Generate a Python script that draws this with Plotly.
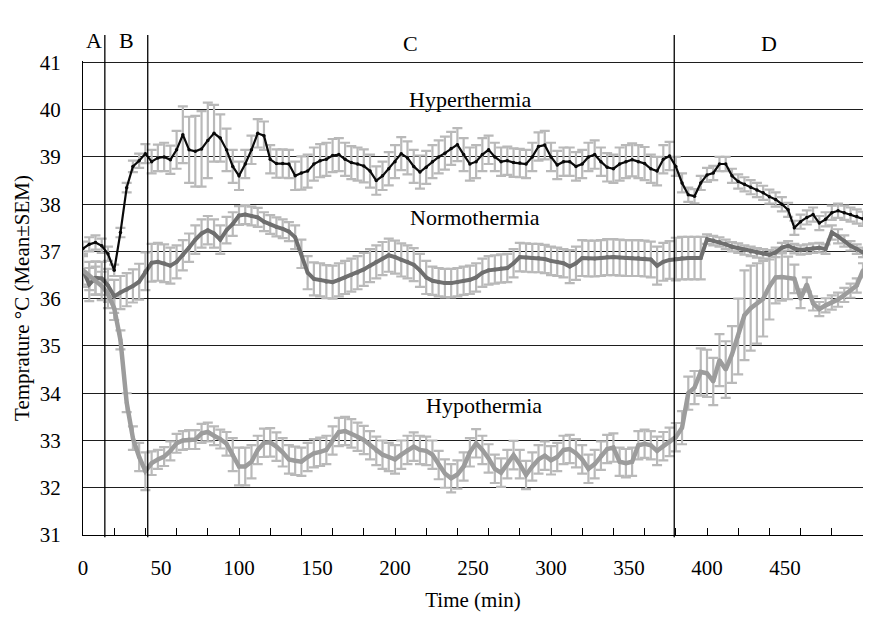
import plotly.graph_objects as go

# ---------------- data ----------------
time_min = list(range(0, 501, 4))

hyper_mean = [37.06, 37.15, 37.19, 37.12, 36.95, 36.6, 37.4, 38.35, 38.8, 38.92,
              39.07, 38.9, 38.98, 39.0, 38.94, 39.15, 39.47, 39.15, 39.12, 39.17,
              39.35, 39.5, 39.4, 39.15, 38.8, 38.6, 38.85, 39.15, 39.5, 39.45,
              38.95, 38.86, 38.86, 38.85, 38.6, 38.66, 38.7, 38.85, 38.92, 38.95,
              39.03, 39.05, 38.95, 38.88, 38.85, 38.81, 38.7, 38.5, 38.6, 38.75,
              38.9, 39.07, 38.98, 38.8, 38.68, 38.78, 38.9, 39.0, 39.08, 39.18,
              39.26, 39.05, 38.85, 38.9, 39.05, 39.15, 39.0, 38.9, 38.92, 38.88,
              38.87, 38.85, 39.0, 39.22, 39.25, 39.0, 38.83, 38.9, 38.9, 38.8,
              38.85, 39.0, 39.05, 38.9, 38.78, 38.75, 38.85, 38.9, 38.94, 38.9,
              38.86, 38.75, 38.7, 38.95, 39.02, 38.8, 38.45, 38.2, 38.17, 38.45,
              38.62, 38.66, 38.85, 38.85, 38.6, 38.48, 38.42, 38.36, 38.3, 38.24,
              38.16, 38.1, 38.0, 37.88, 37.5, 37.63, 37.72, 37.78, 37.6, 37.68,
              37.82, 37.86, 37.82, 37.78, 37.74, 37.69]
hyper_sem = [0.15, 0.15, 0.15, 0.15, 0.15, 0.12, 0.1, 0.1, 0.12, 0.15,
             0.2, 0.25, 0.28, 0.3, 0.3, 0.4, 0.6, 0.7, 0.75, 0.8,
             0.8, 0.6, 0.5, 0.45, 0.35, 0.3, 0.3, 0.3, 0.3, 0.3,
             0.3, 0.3, 0.3, 0.3, 0.3, 0.35, 0.35, 0.35, 0.35, 0.35,
             0.35, 0.35, 0.35, 0.35, 0.35, 0.35, 0.35, 0.3, 0.3, 0.35,
             0.35, 0.35, 0.35, 0.35, 0.35, 0.35, 0.35, 0.35, 0.35, 0.35,
             0.35, 0.35, 0.35, 0.35, 0.35, 0.3, 0.3, 0.3, 0.3, 0.3,
             0.3, 0.3, 0.3, 0.3, 0.3, 0.3, 0.3, 0.3, 0.3, 0.3,
             0.3, 0.3, 0.3, 0.3, 0.3, 0.3, 0.35, 0.35, 0.35, 0.35,
             0.35, 0.3, 0.3, 0.3, 0.3, 0.2, 0.2, 0.15, 0.15, 0.15,
             0.15, 0.15, 0.15, 0.15, 0.15, 0.15, 0.15, 0.15, 0.15, 0.15,
             0.15, 0.15, 0.15, 0.15, 0.15, 0.15, 0.15, 0.15, 0.15, 0.15,
             0.15, 0.15, 0.15, 0.15, 0.15, 0.15]

normo_mean = [36.6, 36.3, 36.44, 36.43, 36.28, 36.05, 36.13, 36.19, 36.27, 36.36,
              36.58, 36.76, 36.78, 36.75, 36.7, 36.78, 36.92, 37.08, 37.25, 37.38,
              37.45, 37.38, 37.25, 37.45, 37.58, 37.76, 37.78, 37.75, 37.72, 37.63,
              37.57, 37.52, 37.48, 37.42, 37.3, 36.95, 36.55, 36.42, 36.4, 36.36,
              36.35, 36.4, 36.45, 36.5, 36.55, 36.62, 36.7, 36.78, 36.85, 36.92,
              36.88, 36.82, 36.78, 36.72, 36.6, 36.45, 36.38, 36.35, 36.33, 36.33,
              36.35, 36.38, 36.4, 36.45, 36.55, 36.6, 36.62, 36.64, 36.65, 36.75,
              36.88, 36.87, 36.86, 36.86, 36.84, 36.8, 36.78, 36.75, 36.68, 36.75,
              36.86, 36.85, 36.85, 36.86, 36.88, 36.88, 36.87, 36.86, 36.86, 36.86,
              36.85, 36.83, 36.7, 36.78, 36.82, 36.84, 36.86, 36.86, 36.86, 36.86,
              37.26, 37.23, 37.2, 37.15, 37.1, 37.07, 37.03, 37.0, 36.97, 36.95,
              36.93, 36.98, 37.08, 37.12, 37.06, 37.03, 37.05, 37.07, 37.08, 37.05,
              37.4, 37.32, 37.22, 37.12, 37.05, 36.98]
normo_sem = [0.35, 0.35, 0.35, 0.35, 0.35, 0.35, 0.35, 0.35, 0.35, 0.38,
             0.4, 0.4, 0.4, 0.4, 0.38, 0.35, 0.32, 0.3, 0.3, 0.3,
             0.3, 0.3, 0.3, 0.28, 0.25, 0.2, 0.2, 0.2, 0.2, 0.2,
             0.2, 0.2, 0.2, 0.2, 0.25, 0.3, 0.35, 0.35, 0.35, 0.35,
             0.35, 0.35, 0.35, 0.35, 0.35, 0.35, 0.35, 0.35, 0.35, 0.35,
             0.35, 0.35, 0.35, 0.35, 0.35, 0.35, 0.3, 0.3, 0.3, 0.3,
             0.3, 0.3, 0.3, 0.3, 0.3, 0.3, 0.3, 0.3, 0.3, 0.3,
             0.3, 0.3, 0.3, 0.3, 0.3, 0.3, 0.3, 0.3, 0.35, 0.35,
             0.38, 0.38, 0.38, 0.38, 0.38, 0.38, 0.38, 0.38, 0.38, 0.38,
             0.38, 0.38, 0.4, 0.4, 0.4, 0.45, 0.45, 0.45, 0.45, 0.45,
             0.1, 0.1, 0.1, 0.1, 0.1, 0.1, 0.1, 0.1, 0.1, 0.1,
             0.1, 0.1, 0.1, 0.1, 0.1, 0.1, 0.1, 0.1, 0.1, 0.1,
             0.15, 0.15, 0.12, 0.1, 0.1, 0.1]

hypo_mean = [36.6, 36.48, 36.38, 36.27, 36.1, 35.8, 35.13, 33.8, 33.05, 32.65,
             32.35, 32.52, 32.6, 32.66, 32.78, 32.94, 33.0, 33.02, 33.02, 33.15,
             33.18, 33.1, 33.03, 32.93, 32.7, 32.45, 32.45, 32.55, 32.8, 32.95,
             32.96, 32.87, 32.75, 32.6, 32.57, 32.55, 32.65, 32.73, 32.76, 32.8,
             33.0, 33.18, 33.2, 33.15, 33.08, 33.01, 32.9, 32.78, 32.7, 32.65,
             32.6, 32.7, 32.8, 32.87, 32.8, 32.78, 32.7, 32.48, 32.3, 32.2,
             32.28, 32.45, 32.75, 32.94, 32.8, 32.62, 32.4, 32.32, 32.5, 32.69,
             32.5, 32.27, 32.45, 32.6, 32.68, 32.58, 32.65, 32.8, 32.82, 32.73,
             32.6, 32.4, 32.5, 32.68, 32.82, 32.85, 32.55, 32.52, 32.55, 32.9,
             32.93, 32.9, 32.78, 32.88, 32.97, 33.07, 33.27, 34.0, 34.12, 34.45,
             34.42, 34.25, 34.7, 34.5, 34.82, 35.2, 35.65, 35.8, 35.9, 36.0,
             36.26, 36.45, 36.46, 36.44, 36.42, 36.0, 36.3, 35.9, 35.78, 35.86,
             35.92, 35.98, 36.08, 36.17, 36.28, 36.6]
hypo_sem = [0.3, 0.3, 0.3, 0.3, 0.3, 0.25, 0.2, 0.2, 0.25, 0.3,
            0.4, 0.25, 0.2, 0.2, 0.2, 0.2, 0.2, 0.2, 0.2, 0.2,
            0.2, 0.2, 0.2, 0.25, 0.35, 0.4, 0.4, 0.35, 0.3, 0.3,
            0.3, 0.3, 0.3, 0.3, 0.3, 0.3, 0.3, 0.3, 0.3, 0.3,
            0.3, 0.3, 0.3, 0.3, 0.3, 0.3, 0.3, 0.3, 0.3, 0.3,
            0.3, 0.3, 0.3, 0.3, 0.3, 0.3, 0.3, 0.3, 0.3, 0.3,
            0.3, 0.3, 0.3, 0.3, 0.3, 0.3, 0.3, 0.3, 0.3, 0.3,
            0.3, 0.3, 0.3, 0.3, 0.3, 0.3, 0.3, 0.3, 0.3, 0.3,
            0.3, 0.3, 0.3, 0.3, 0.3, 0.3, 0.3, 0.3, 0.3, 0.3,
            0.3, 0.3, 0.3, 0.3, 0.3, 0.3, 0.35, 0.35, 0.35, 0.5,
            0.5, 0.5, 0.55, 0.6, 0.6, 0.8, 0.95, 0.9, 0.85, 0.8,
            0.7, 0.55, 0.5, 0.45, 0.3, 0.2, 0.15, 0.15, 0.15, 0.15,
            0.15, 0.15, 0.15, 0.15, 0.15, 0.15]

series_names = ["Hyperthermia", "Normothermia", "Hypothermia"]
series_label_pos = [(248, 40.21), (251, 37.71), (257, 33.73)]

phase_names = ["A", "B", "C", "D"]
phase_bounds = [0, 14, 41.5, 379, 500]

x_tick_vals = [0, 50, 100, 150, 200, 250, 300, 350, 400, 450]
y_tick_vals = [31, 32, 33, 34, 35, 36, 37, 38, 39, 40, 41]

# ---------------- styling ----------------
FONT = "Liberation Serif"
ERR_COLOR = "#b9b9b9"
line_colors = ["#0a0a0a", "#6f6f6f", "#9c9c9c"]
line_widths = [2.2, 4, 4.5]
marker_sizes = [3.5, 4, 4]

means = [hyper_mean, normo_mean, hypo_mean]
sems = [hyper_sem, normo_sem, hypo_sem]

fig = go.Figure()

# error bars first (behind all lines)
for m, s, name in zip(means, sems, series_names):
    fig.add_trace(go.Scatter(
        x=time_min, y=m, mode="markers",
        marker=dict(size=1, opacity=0),
        error_y=dict(type="data", array=s, visible=True,
                     color=ERR_COLOR, thickness=2.2, width=5),
        showlegend=False, hoverinfo="skip", name=name + " SEM"))

# mean lines
for m, name, c, w, ms in zip(means, series_names, line_colors, line_widths, marker_sizes):
    fig.add_trace(go.Scatter(
        x=time_min, y=m, mode="lines+markers", name=name,
        line=dict(color=c, width=w),
        marker=dict(color=c, size=ms),
        showlegend=False))

# invisible trace to carry the minor tick axis
fig.add_trace(go.Scatter(x=[0], y=[31], xaxis="x2", mode="markers",
                         marker=dict(opacity=0), showlegend=False, hoverinfo="skip"))

# phase boundaries and labels
for b in phase_bounds[1:-1]:
    fig.add_shape(type="line", xref="x", yref="paper", x0=b, x1=b,
                  y0=-0.005, y1=1.055, line=dict(color="black", width=1.3),
                  layer="above")
for i, p in enumerate(phase_names):
    xc = (phase_bounds[i] + phase_bounds[i + 1]) / 2
    fig.add_annotation(x=xc, y=1.044 if p in "AB" else 1.036,
                       xref="x", yref="paper", yanchor="middle",
                       text=p, showarrow=False,
                       font=dict(family=FONT, size=22, color="black"))

for name, (lx, ly) in zip(series_names, series_label_pos):
    fig.add_annotation(x=lx, y=ly, xref="x", yref="y", text=name,
                       showarrow=False,
                       font=dict(family=FONT, size=22, color="black"))

fig.update_layout(
    width=878, height=611,
    margin=dict(l=75, r=23, t=53, b=84),
    paper_bgcolor="white", plot_bgcolor="white",
    font=dict(family=FONT, color="black"),
    showlegend=False,
    xaxis=dict(range=[0, 500], tickmode="array", tickvals=x_tick_vals,
               ticks="", showgrid=False, zeroline=False, automargin=False,
               showline=True, linecolor="black", linewidth=1.3,
               tickfont=dict(family=FONT, size=21, color="black"),
               ticklabelstandoff=14,
               title=dict(text="Time (min)", standoff=12,
                          font=dict(family=FONT, size=21, color="black"))),
    xaxis2=dict(range=[0, 500], overlaying="x", anchor="y", side="bottom",
                tickmode="linear", tick0=0, dtick=20, ticks="inside",
                ticklen=7, tickwidth=1.2, tickcolor="black", automargin=False,
                showticklabels=False, showgrid=False, zeroline=False,
                showline=False),
    yaxis=dict(range=[31, 41.03], tickmode="array", tickvals=y_tick_vals,
               ticks="", showgrid=True, gridcolor="#1e1e1e", gridwidth=1.3,
               zeroline=False, showline=True, linecolor="black", linewidth=1.3,
               automargin=False,
               tickfont=dict(family=FONT, size=21, color="black"),
               ticklabelstandoff=17,
               title=dict(text="Temprature °C (Mean±SEM)", standoff=4,
                          font=dict(family=FONT, size=21, color="black"))),
)

fig.write_html("out.html")
